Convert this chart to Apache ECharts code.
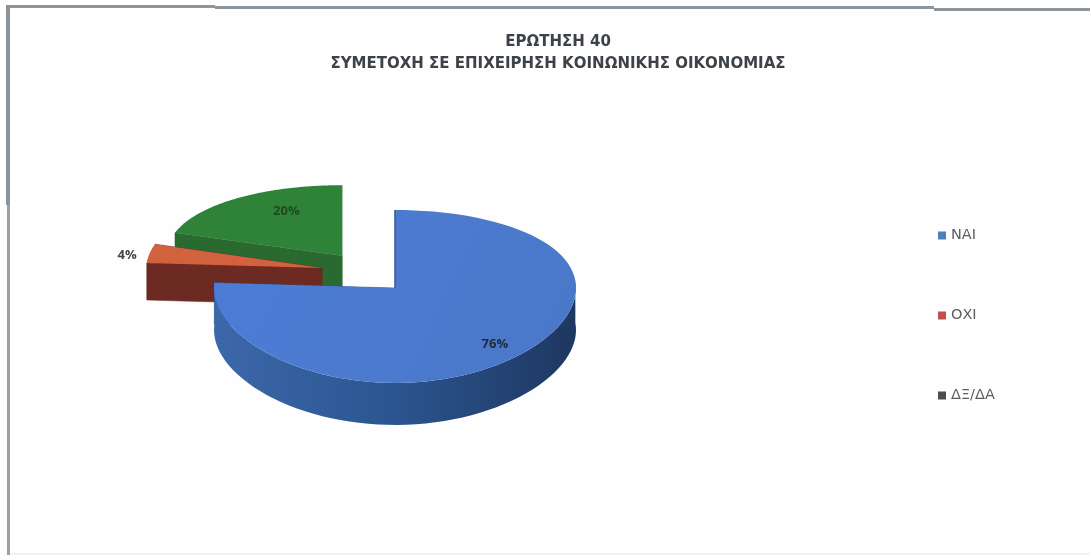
<!DOCTYPE html>
<html><head><meta charset="utf-8">
<style>html,body{margin:0;padding:0;background:#fefefe}#c{width:1090px;height:555px;filter:blur(0.7px)}</style>
<script src="https://cdn.jsdelivr.net/npm/echarts@6/dist/echarts.min.js"></script>
</head><body><div id="c"></div>
<script>
// ---- data ----
const categories = ['ΝΑΙ', 'ΟΧΙ', 'ΔΞ/ΔΑ'];
const values = [76, 4, 20];
const percentLabels = ['76%', '4%', '20%'];
const titleLines = ['ΕΡΩΤΗΣΗ 40', 'ΣΥΜΕΤΟΧΗ ΣΕ ΕΠΙΧΕΙΡΗΣΗ ΚΟΙΝΩΝΙΚΗΣ ΟΙΚΟΝΟΜΙΑΣ'];

// ---- projection of the tilted disc ----
const geo = { cx: 395, cy: 288, rx: 181, a: 85.66, k: 0.098 };
const project = (u, v) => [geo.cx + geo.rx * u, geo.cy - geo.a * v / (1 + geo.k * v)];

// ---- per-slice look ----
const looks = [
  { offset: [0, 0], r: 1, depth: 42, z: 3,
    top: ['#4c7cd6', '#4a78c8'], wall: ['#3c68aa', '#2b5590', '#1e3760'], edge: '#2a4a80',
    legend: '#4f81bd', labelAt: [0.552, -0.62], labelColor: '#1f2a3a' },
  { offset: [-0.403, 0.239], r: 0.97, depth: 37, z: 2,
    top: ['#d2623f', '#d4613e'], wall: ['#6c2a22', '#6c2a22', '#6c2a22'], edge: '#6c2a22',
    legend: '#c0504d', labelAt: [-1.48, 0.40], labelColor: '#444' },
  { offset: [-0.293, 0.39], r: 0.97, depth: 33, z: 1,
    top: ['#2f8339', '#2f8339'], wall: ['#2a6a30', '#2a6a30', '#2a6a30'], edge: '#2a6a30',
    legend: '#4a4f4a', labelAt: [-0.6, 0.98], labelColor: '#1d4a22' }
];

const total = values.reduce((s, v) => s + v, 0);
const startAngles = values.map((_, i) => values.slice(0, i).reduce((s, v) => s + v, 0) / total * 2 * Math.PI);

function renderSlice(i) {
  return function () {
    const L = looks[i];
    const a0 = startAngles[i], a1 = a0 + values[i] / total * 2 * Math.PI;
    const pt = (t, r) => project(L.offset[0] + r * Math.sin(t), L.offset[1] + r * Math.cos(t));
    const steps = 90, arc = [];
    for (let s = 0; s <= steps; s++) arc.push(a0 + (a1 - a0) * s / steps);
    const apex = pt(0, 0);
    const rim = arc.map(t => pt(t, L.r));
    const down = p => [p[0], p[1] + L.depth];
    const children = [];
    const flat = c => ({ type: 'polygon', shape: { points: c.p }, style: { fill: c.f, stroke: c.s || c.f, lineWidth: c.w || 0.5 } });

    // radial side walls
    children.push(flat({ p: [apex, rim[0], down(rim[0]), down(apex)], f: L.wall[1] }));
    children.push(flat({ p: [apex, rim[steps], down(rim[steps]), down(apex)], f: L.wall[1] }));

    // outer wall, front-facing part only
    const front = arc.filter(t => Math.cos(t) < 0.12);
    if (front.length > 1) {
      const pts = front.map(t => pt(t, L.r));
      const wall = pts.concat(pts.slice().reverse().map(down));
      children.push({ type: 'polygon', shape: { points: wall }, style: {
        fill: new echarts.graphic.LinearGradient(0, 0, 1, 0, [
          { offset: 0, color: L.wall[0] }, { offset: 0.5, color: L.wall[1] }, { offset: 1, color: L.wall[2] }
        ])
      }});
    }
    // top face
    children.push({ type: 'polygon', shape: { points: [apex].concat(rim) }, style: {
      fill: new echarts.graphic.LinearGradient(0, 0, 1, 1, [
        { offset: 0, color: L.top[0] }, { offset: 1, color: L.top[1] }
      ])
    }});
    // dark seam along the first radius
    if (i === 0) children.push({ type: 'line', shape: { x1: apex[0], y1: apex[1], x2: rim[0][0], y2: rim[0][1] },
      style: { stroke: L.edge, lineWidth: 1 } });
    // value label
    const lp = project(L.labelAt[0], L.labelAt[1]);
    children.push({ type: 'text', z2: 10, style: { text: percentLabels[i], x: lp[0], y: lp[1], align: 'center', verticalAlign: 'middle',
      font: 'bold 13px "Open Sans", sans-serif', fill: L.labelColor } });
    return { type: 'group', children };
  };
}

const chart = echarts.init(document.getElementById('c'), null, { renderer: 'canvas' });
chart.setOption({
  animation: false,
  backgroundColor: '#fefefe',
  title: { text: titleLines.join('\n'), left: 553, top: 26, textAlign: 'center',
    textStyle: { color: '#3c4248', fontFamily: '"DejaVu Sans", sans-serif', fontSize: 15, fontWeight: 'bold', lineHeight: 22 } },
  legend: { orient: 'vertical', left: 933, top: 223, itemGap: 65, itemWidth: 8, itemHeight: 8, selectedMode: false,
    textStyle: { color: '#5a5f64', fontFamily: '"DejaVu Sans", sans-serif', fontSize: 14.5, padding: [0, 0, 0, 0] },
    data: categories.map((name, i) => ({ name, icon: 'rect', itemStyle: { color: looks[i].legend } })) },
  graphic: [
    { type: 'rect', shape: { x: 6, y: 5, width: 4, height: 200 }, style: { fill: '#8c949a' }, silent: true },
    { type: 'rect', shape: { x: 7, y: 205, width: 3, height: 350 }, style: { fill: '#9aa1a6' }, silent: true },
    { type: 'rect', shape: { x: 8, y: 5, width: 207, height: 3 }, style: { fill: '#8f969b' }, silent: true },
    { type: 'rect', shape: { x: 215, y: 6, width: 719, height: 3 }, style: { fill: '#8f969b' }, silent: true },
    { type: 'rect', shape: { x: 934, y: 8, width: 156, height: 3 }, style: { fill: '#8f969b' }, silent: true },
    { type: 'rect', shape: { x: 10, y: 553, width: 1080, height: 2 }, style: { fill: '#f1f2f2' }, silent: true }
  ],
  series: categories.map((name, i) => ({
    type: 'custom', name, coordinateSystem: 'none', z: looks[i].z,
    data: [values[i]], renderItem: renderSlice(i), silent: true,
    itemStyle: { color: looks[i].legend }
  }))
});
</script></body></html>
